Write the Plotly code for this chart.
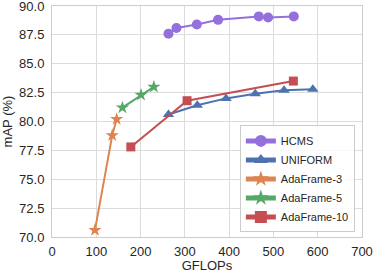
import plotly.graph_objects as go

hcms_x = [263, 281, 327, 375, 467, 488, 546]
hcms_y = [87.6, 88.1, 88.4, 88.8, 89.1, 89.0, 89.1]
uni_x = [263, 328, 393, 459, 524, 589]
uni_y = [80.6, 81.4, 82.0, 82.4, 82.7, 82.8]
ada3_x = [97, 136, 146]
ada3_y = [70.6, 78.8, 80.2]
ada5_x = [159, 201, 230]
ada5_y = [81.2, 82.3, 83.0]
ada10_x = [178, 305, 545]
ada10_y = [77.8, 81.8, 83.5]

series = [
    ("HCMS", hcms_x, hcms_y, "#9370DB", "circle", 10),
    ("UNIFORM", uni_x, uni_y, "#4C72B0", "triangle-up", 10),
    ("AdaFrame-3", ada3_x, ada3_y, "#DD8452", "star", 10),
    ("AdaFrame-5", ada5_x, ada5_y, "#55A868", "star", 10),
    ("AdaFrame-10", ada10_x, ada10_y, "#C44E52", "square", 9),
]

fig = go.Figure()
for name, x, y, c, sym, sz in series:
    fig.add_trace(go.Scatter(x=x, y=y, name=name, mode="lines+markers",
                             line=dict(color=c, width=2),
                             marker=dict(color=c, symbol=sym, size=sz)))

font = "Liberation Sans, Arial, sans-serif"
fig.update_layout(
    width=374, height=273,
    margin=dict(l=52, r=12, t=6, b=36),
    plot_bgcolor="white", paper_bgcolor="white",
    font=dict(family=font, size=13, color="#262626"),
    xaxis=dict(range=[0, 700], dtick=100, showgrid=True, gridcolor="#dcdcdc",
               showline=True, linecolor="#cccccc", mirror=True, zeroline=False,
               ticks="", automargin=False, ticklabelstandoff=2,
               ticklabeloverflow="allow",
               title=dict(text="GFLOPs", font=dict(size=13)),
               tickfont=dict(size=13)),
    yaxis=dict(range=[70, 90], dtick=2.5, tickformat=".1f", showgrid=True,
               gridcolor="#dcdcdc", showline=True, linecolor="#cccccc", mirror=True,
               zeroline=False, ticks="", automargin=False, ticklabelstandoff=4,
               ticklabeloverflow="allow",
               title=dict(text="mAP (%)", font=dict(size=13)),
               tickfont=dict(size=13)),
    legend=dict(x=0.977, y=0.02, xanchor="right", yanchor="bottom",
                bgcolor="rgba(255,255,255,0.85)", bordercolor="#cccccc", borderwidth=1,
                font=dict(size=11), tracegroupgap=0, itemsizing="constant",
                itemwidth=30),
)
fig.write_html("out.html", config={"displayModeBar": False},
               post_script="document.body.style.margin='0px';document.body.style.overflow='hidden';")
